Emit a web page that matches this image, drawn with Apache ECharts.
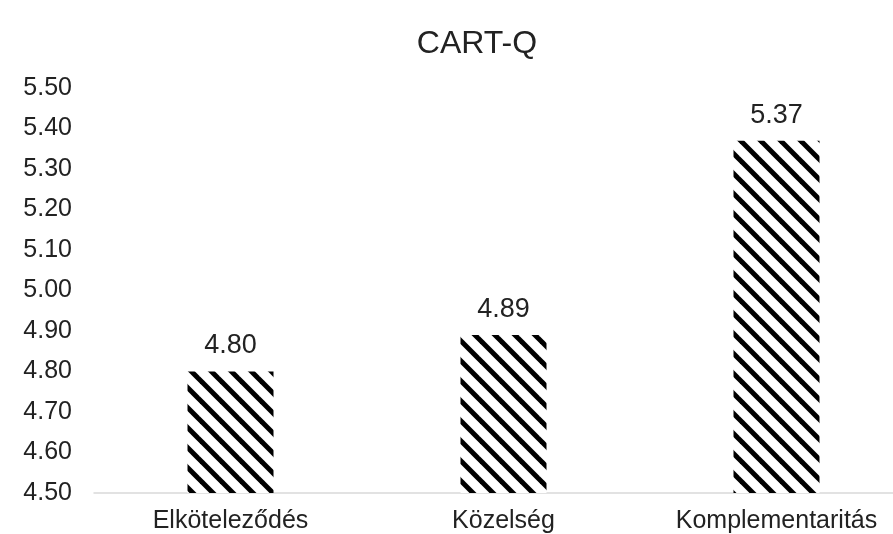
<!DOCTYPE html>
<html>
<head>
<meta charset="utf-8">
<script src="https://cdn.jsdelivr.net/npm/echarts@6/dist/echarts.min.js"></script>
<style>
html,body{margin:0;padding:0;background:#fff;overflow:hidden;width:893px;height:534px;}
#chart{width:913px;height:534px;}
</style>
</head>
<body>
<div id="chart"></div>
<script>
const categories = ['Elköteleződés', 'Közelség', 'Komplementaritás'];
const values = [4.80, 4.89, 5.37];
const yMin = 4.5, yMax = 5.5, yStep = 0.1;

function makeHatch() {
  const size = 20;
  const c = document.createElement('canvas');
  c.width = size; c.height = size;
  const ctx = c.getContext('2d');
  ctx.fillStyle = '#fff';
  ctx.fillRect(0, 0, size, size);
  ctx.strokeStyle = '#000';
  ctx.lineWidth = 5;
  ctx.lineCap = 'square';
  for (let o = -size; o <= size; o += size) {
    ctx.beginPath();
    ctx.moveTo(o - 2, -2);
    ctx.lineTo(o + size + 2, size + 2);
    ctx.stroke();
  }
  return c;
}

const font = "'Liberation Sans', Arial, sans-serif";
const chart = echarts.init(document.getElementById('chart'));
chart.setOption({
  animation: false,
  backgroundColor: '#fff',
  title: {
    text: 'CART-Q',
    left: 472, top: 23, textAlign: 'center',
    textStyle: { fontFamily: font, fontSize: 32, fontWeight: 'normal', color: '#222' }
  },
  grid: { left: 94, right: 0, top: 88, bottom: 40, containLabel: false },
  xAxis: {
    type: 'category',
    data: categories,
    axisLine: { lineStyle: { color: '#d9d9d9', width: 1.5 } },
    axisTick: { show: false },
    axisLabel: { fontFamily: font, fontSize: 25, color: '#222', margin: 16, interval: 0 }
  },
  yAxis: {
    type: 'value',
    min: yMin, max: yMax, interval: yStep,
    axisLine: { show: false },
    axisTick: { show: false },
    splitLine: { show: false },
    axisLabel: {
      fontFamily: font, fontSize: 25, color: '#222', margin: 22,
      formatter: v => v.toFixed(2)
    }
  },
  series: [{
    type: 'bar',
    data: values,
    barWidth: 86,
    itemStyle: { color: { image: makeHatch(), repeat: 'repeat' } },
    label: {
      show: true, position: 'top', distance: 12,
      fontFamily: font, fontSize: 27, color: '#222',
      formatter: p => p.value.toFixed(2)
    }
  }]
});
</script>
</body>
</html>
